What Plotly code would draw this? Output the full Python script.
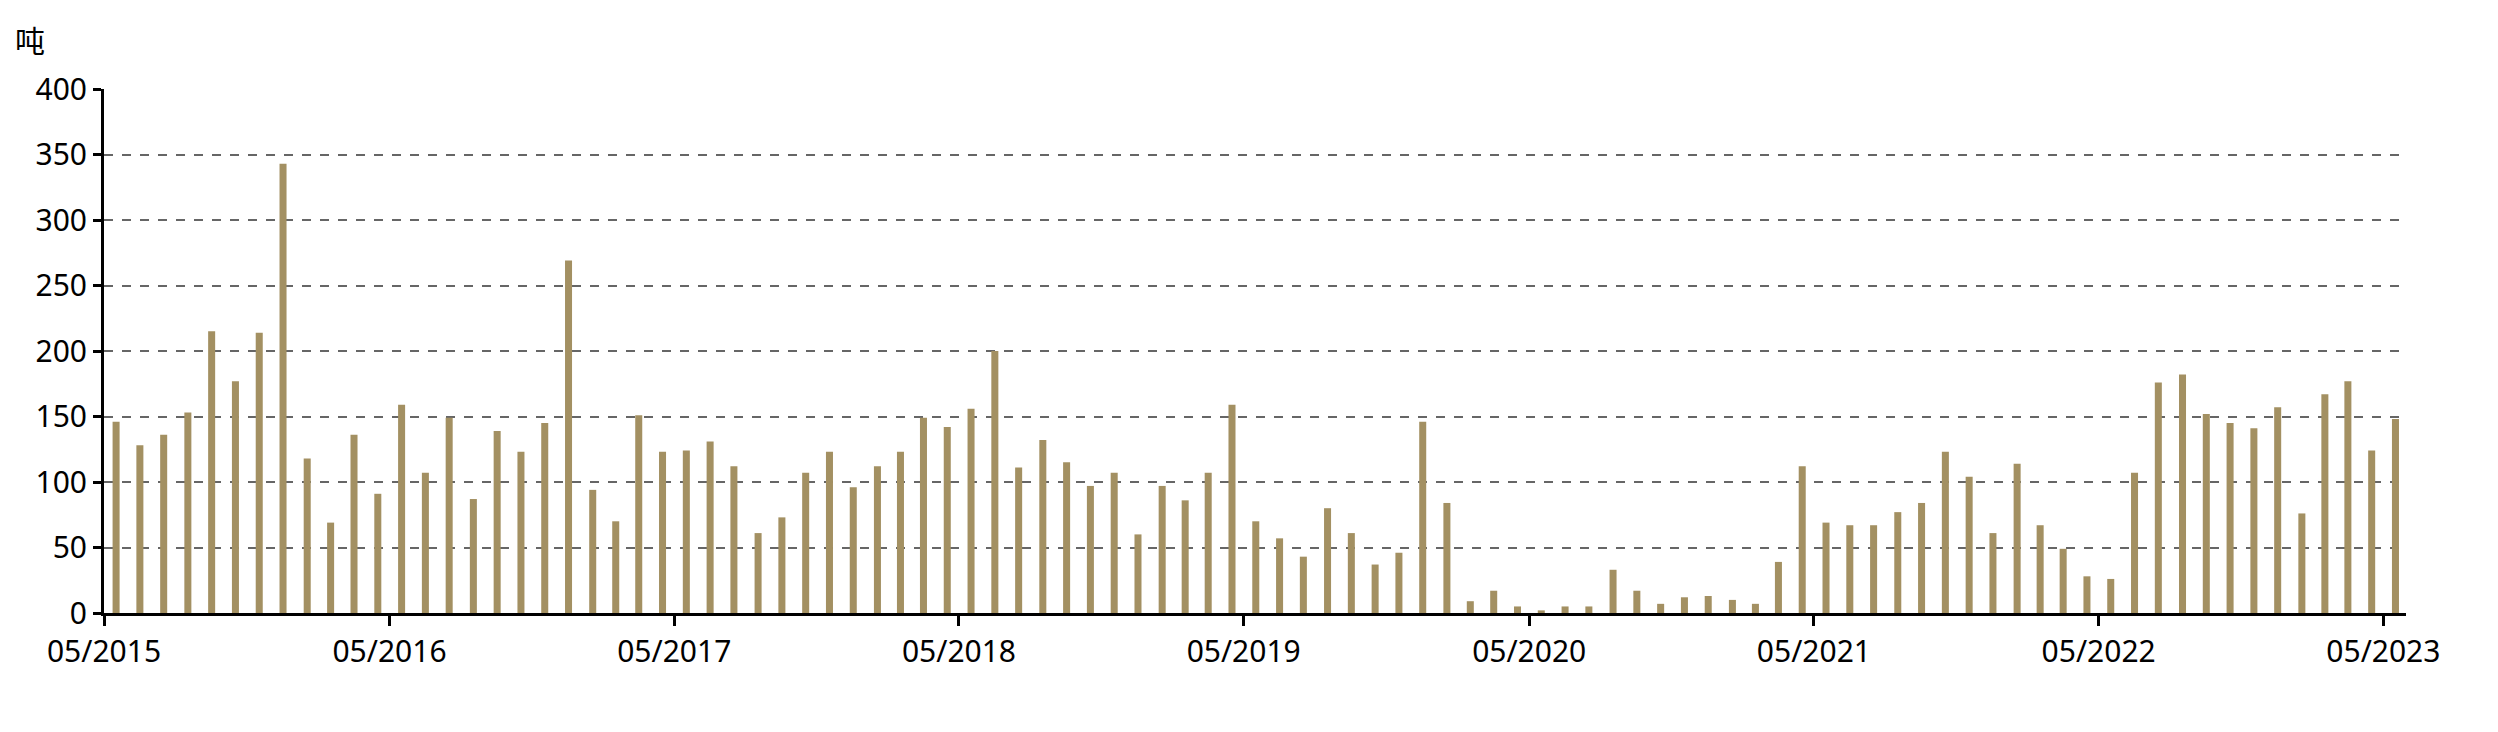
import pandas as pd
import plotly.graph_objects as go

# monthly values, 05/2015 .. 05/2023 (tonnes)
months = pd.date_range("2015-05-01", "2023-05-01", freq="MS")
values = [
    146, 128, 136, 153, 215, 177, 214, 343, 118, 69, 136, 91,
    159, 107, 149, 87, 139, 123, 145, 269, 94, 70, 151, 123,
    124, 131, 112, 61, 73, 107, 123, 96, 112, 123, 149, 142,
    156, 200, 111, 132, 115, 97, 107, 60, 97, 86, 107, 159,
    70, 57, 43, 80, 61, 37, 46, 146, 84, 9, 17, 5,
    2, 5, 5, 33, 17, 7, 12, 13, 10, 7, 39, 112,
    69, 67, 67, 77, 84, 123, 104, 61, 114, 67, 49, 28,
    26, 107, 176, 182, 152, 145, 141, 157, 76, 167, 177, 124,
    148,
]
tick_dates = pd.date_range("2015-05-01", "2023-05-01", freq="12MS")
tick_text = [d.strftime("%m/%Y") for d in tick_dates]
y_ticks = [0, 50, 100, 150, 200, 250, 300, 350, 400]

font = "Noto Sans"
fig = go.Figure()
fig.add_trace(go.Bar(
    x=months, y=values,
    xperiod="M1", xperiodalignment="middle",
    width=1000 * 3600 * 24 * 9,
    marker=dict(color="#A39062", line=dict(width=0)),
))
fig.update_layout(
    width=2498, height=732,
    margin=dict(l=96, r=100, t=81, b=127),
    plot_bgcolor="white", paper_bgcolor="white",
    showlegend=False,
    font=dict(family=font, size=30, color="black"),
    annotations=[dict(text="吨", xref="paper", yref="paper", x=-0.032, y=1.05,
                      xanchor="center", yanchor="bottom", showarrow=False,
                      font=dict(family="Noto Sans CJK SC", size=30))],
)
fig.update_xaxes(
    range=["2015-05-01", "2023-05-30"],
    tickvals=tick_dates, ticktext=tick_text,
    showgrid=False, showline=True, linecolor="black", linewidth=3,
    ticks="outside", tickwidth=3, ticklen=10, tickcolor="black",
)
fig.update_yaxes(
    range=[0, 400], tickvals=y_ticks,
    showgrid=True, gridcolor="#666666", gridwidth=2, griddash="dash",
    showline=True, linecolor="black", linewidth=3,
    ticks="outside", tickwidth=3, ticklen=8, tickcolor="black",
    zeroline=False,
)
fig.write_html("out.html")
